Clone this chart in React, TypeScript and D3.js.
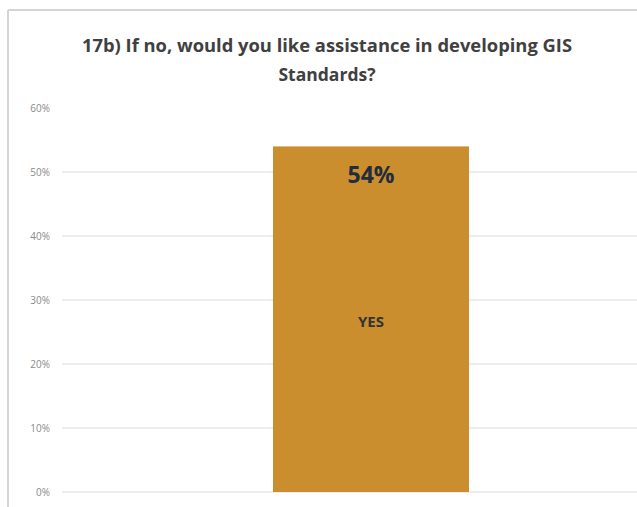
import * as d3 from 'd3'
import React, { useEffect, useRef } from "react";

const categories = ["YES"];
const values = [54];
const valueLabels = ["54%"];
const tickValues = [0, 10, 20, 30, 40, 50, 60];
const titleLines = ["17b) If no, would you like assistance in developing GIS", "Standards?"];

const App: React.FC = () => {
    const ref = useRef<SVGSVGElement>(null);

    useEffect(() => {
        if (!ref.current) return;
        const width = 637;
        const height = 507;
        const svg = d3.select(ref.current)
            .attr('width', width)
            .attr('height', height);
        svg.selectAll('*').remove();

        svg.append('rect').attr('width', width).attr('height', height).attr('fill', '#fff');

        // frame
        svg.append('line').attr('x1', 8).attr('x2', width).attr('y1', 10).attr('y2', 10)
            .attr('stroke', '#d4d4d4').attr('stroke-width', 2);
        svg.append('line').attr('x1', 8).attr('x2', 8).attr('y1', 10).attr('y2', height)
            .attr('stroke', '#d4d4d4').attr('stroke-width', 2);

        const title = svg.append('text')
            .attr('text-anchor', 'middle')
            .attr('font-family', 'Open Sans, sans-serif')
            .attr('font-weight', 'bold')
            .attr('font-size', 17.5)
            .attr('fill', '#404040');
        titleLines.forEach((t, i) => {
            title.append('tspan').attr('x', 327).attr('y', 52 + i * 29).text(t)
                .attr('textLength', i === 0 ? 490 : null)
                .attr('lengthAdjust', 'spacingAndGlyphs');
        });

        const y = d3.scaleLinear().domain([0, 60]).range([492, 108]);
        const x = d3.scaleBand().domain(categories).range([273, 469]);

        const grid = svg.append('g');
        grid.selectAll('line')
            .data(tickValues.filter(v => v < 60))
            .join('line')
            .attr('x1', 62).attr('x2', width)
            .attr('y1', d => y(d)).attr('y2', d => y(d))
            .attr('stroke', '#dcdcdc').attr('stroke-width', 1.2);

        svg.append('g')
            .selectAll('text')
            .data(tickValues)
            .join('text')
            .attr('x', 50)
            .attr('y', d => y(d) + 3.5)
            .attr('text-anchor', 'end')
            .attr('font-family', 'Open Sans, sans-serif')
            .attr('font-size', 10)
            .attr('fill', '#8a8a8a')
            .text(d => `${d}%`);

        svg.append('g')
            .selectAll('rect')
            .data(values)
            .join('rect')
            .attr('x', (_, i) => x(categories[i])!)
            .attr('width', x.bandwidth())
            .attr('y', d => y(d))
            .attr('height', d => y(0) - y(d))
            .attr('fill', '#cb8e2f');

        svg.append('g')
            .selectAll('text')
            .data(values)
            .join('text')
            .attr('x', (_, i) => x(categories[i])! + x.bandwidth() / 2)
            .attr('y', d => y(d) + 37)
            .attr('text-anchor', 'middle')
            .attr('font-family', 'Open Sans, sans-serif')
            .attr('font-weight', 'bold')
            .attr('font-size', 23)
            .attr('fill', '#1f2d3d')
            .text((_, i) => valueLabels[i]);

        svg.append('g')
            .selectAll('text')
            .data(values)
            .join('text')
            .attr('x', (_, i) => x(categories[i])! + x.bandwidth() / 2)
            .attr('y', d => (y(d) + y(0)) / 2 + 8)
            .attr('text-anchor', 'middle')
            .attr('font-family', 'Open Sans, sans-serif')
            .attr('font-weight', 'bold')
            .attr('font-size', 15)
            .attr('fill', '#333')
            .text((_, i) => categories[i]);
    }, []);

    return (
        <div style={{ position: 'absolute', left: 0, top: 0 }}>
            <svg ref={ref} style={{ display: 'block' }}></svg>
        </div>
    );
}

export default App;
